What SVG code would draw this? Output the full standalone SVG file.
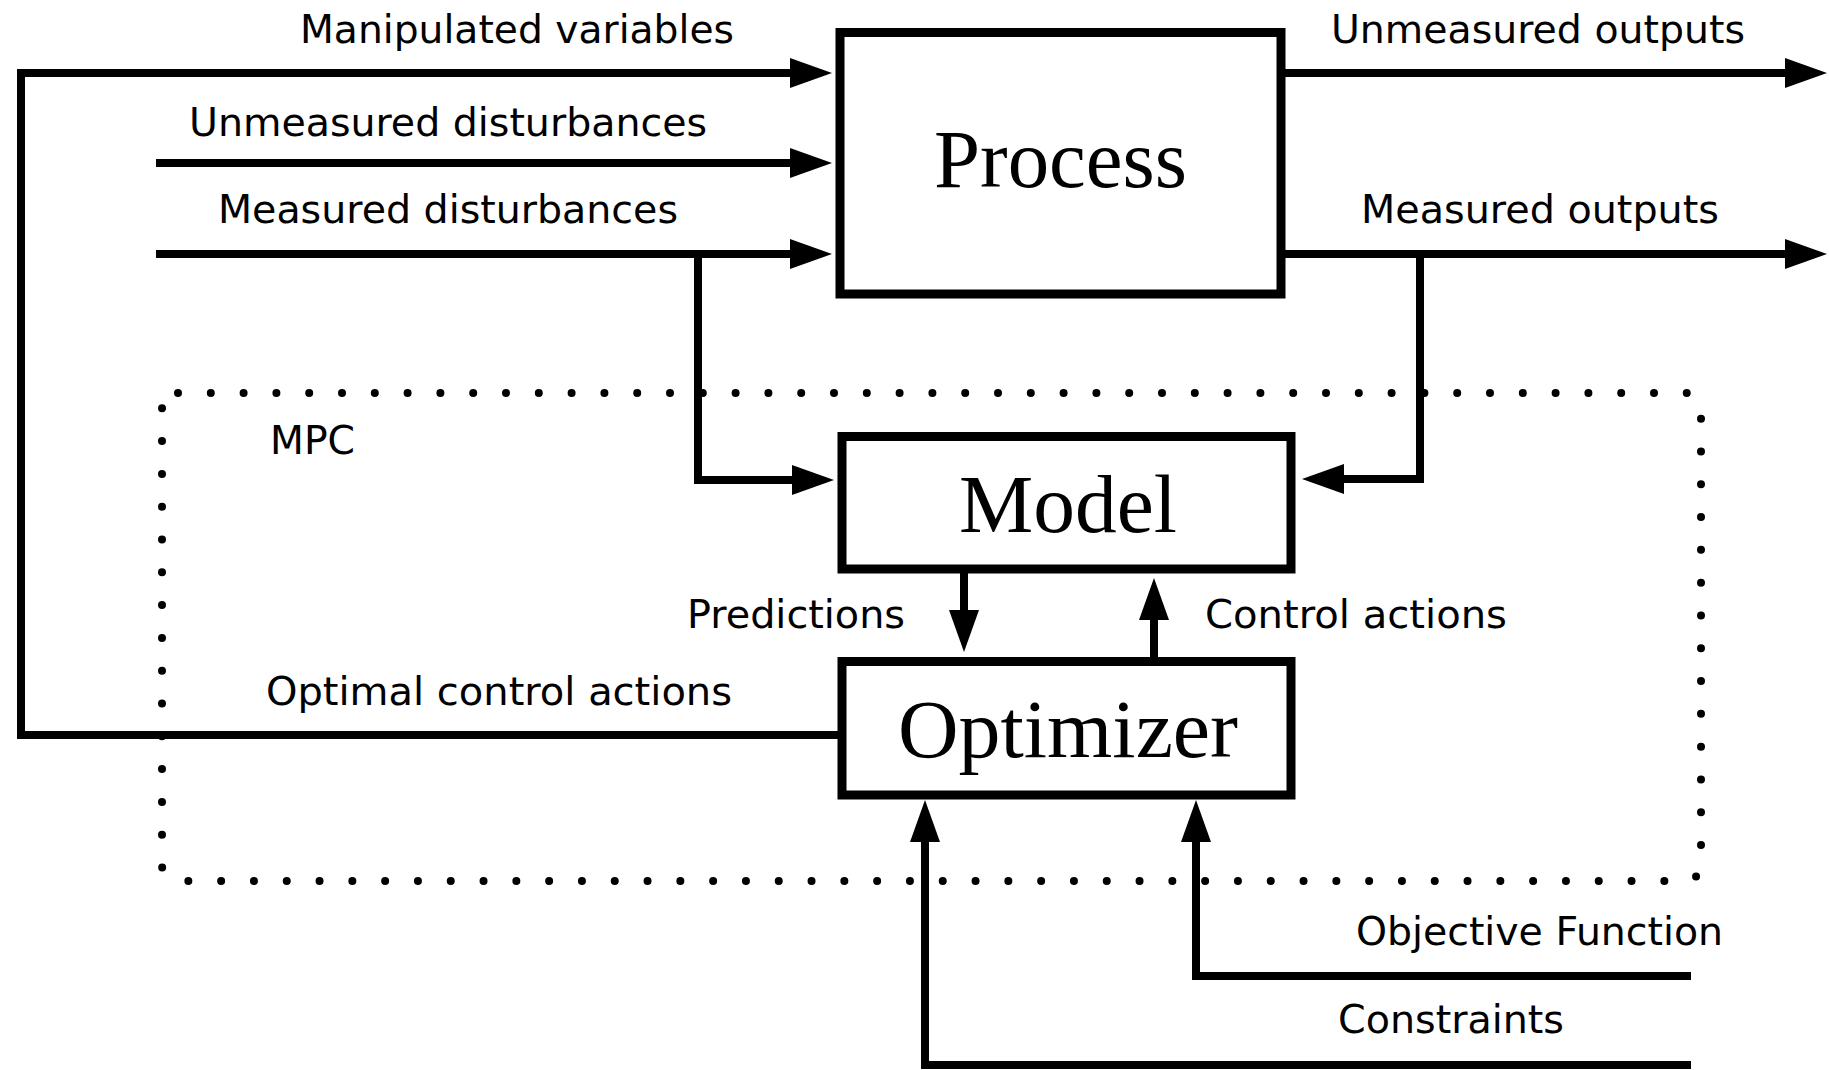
<svg xmlns="http://www.w3.org/2000/svg" width="1829" height="1070" viewBox="0 0 1829 1070">
<style>
.lbl{font-family:"DejaVu Sans","Liberation Sans",sans-serif;font-size:39px;fill:#000}
.big{font-family:"Liberation Serif","Times New Roman",serif;font-size:83px;fill:#000}
.box{fill:#fff;stroke:#000;stroke-width:9}
.wire{fill:none;stroke:#000;stroke-width:8;stroke-linejoin:miter;stroke-linecap:butt}
.mpc{fill:none;stroke:#000;stroke-width:8;stroke-linecap:round;stroke-dasharray:0 32.8}
</style>
<defs>
<marker id="ah" viewBox="0 0 42 30" markerWidth="42" markerHeight="30" refX="2" refY="15" orient="auto" markerUnits="userSpaceOnUse">
<path d="M0,0 L42,15 L0,30 z" fill="#000"/>
</marker>
</defs>
<rect width="1829" height="1070" fill="#fff"/>
<g id="mpc-boundary">
<rect class="mpc" x="162" y="393" width="1539" height="488" rx="16"/>
<text class="lbl" x="270" y="454" textLength="85" lengthAdjust="spacingAndGlyphs">MPC</text>
</g>
<g id="connectors">
<path class="wire" d="M838,735 H21 V73 H792" marker-end="url(#ah)"/>
<path class="wire" d="M156,163 H792" marker-end="url(#ah)"/>
<path class="wire" d="M156,254 H792" marker-end="url(#ah)"/>
<path class="wire" d="M698,254 V480 H794" marker-end="url(#ah)"/>
<path class="wire" d="M1283,73 H1787" marker-end="url(#ah)"/>
<path class="wire" d="M1283,254 H1787" marker-end="url(#ah)"/>
<path class="wire" d="M1420,254 V479 H1342" marker-end="url(#ah)"/>
<path class="wire" d="M964,573 V612" marker-end="url(#ah)"/>
<path class="wire" d="M1154,657 V618" marker-end="url(#ah)"/>
<path class="wire" d="M1691,1065 H925 V840" marker-end="url(#ah)"/>
<path class="wire" d="M1691,976 H1196 V840" marker-end="url(#ah)"/>
<text class="lbl" x="300" y="43" textLength="434" lengthAdjust="spacingAndGlyphs">Manipulated variables</text>
<text class="lbl" x="189" y="136" textLength="518" lengthAdjust="spacingAndGlyphs">Unmeasured disturbances</text>
<text class="lbl" x="218" y="223" textLength="460" lengthAdjust="spacingAndGlyphs">Measured disturbances</text>
<text class="lbl" x="1331" y="43" textLength="414" lengthAdjust="spacingAndGlyphs">Unmeasured outputs</text>
<text class="lbl" x="1361" y="223" textLength="358" lengthAdjust="spacingAndGlyphs">Measured outputs</text>
<text class="lbl" x="687" y="628" textLength="218" lengthAdjust="spacingAndGlyphs">Predictions</text>
<text class="lbl" x="1205" y="628" textLength="302" lengthAdjust="spacingAndGlyphs">Control actions</text>
<text class="lbl" x="266" y="705" textLength="466" lengthAdjust="spacingAndGlyphs">Optimal control actions</text>
<text class="lbl" x="1356" y="945" textLength="367" lengthAdjust="spacingAndGlyphs">Objective Function</text>
<text class="lbl" x="1338" y="1033" textLength="226" lengthAdjust="spacingAndGlyphs">Constraints</text>
</g>
<g id="process">
<rect class="box" x="840" y="32.5" width="441" height="261.5"/>
<text class="big" x="934" y="187" textLength="253" lengthAdjust="spacingAndGlyphs">Process</text>
</g>
<g id="model">
<rect class="box" x="842" y="436.5" width="449" height="132.5"/>
<text class="big" x="959" y="532" textLength="218" lengthAdjust="spacingAndGlyphs">Model</text>
</g>
<g id="optimizer">
<rect class="box" x="842" y="661.5" width="449" height="133.5"/>
<text class="big" x="898" y="757" textLength="340" lengthAdjust="spacingAndGlyphs">Optimizer</text>
</g>
</svg>
